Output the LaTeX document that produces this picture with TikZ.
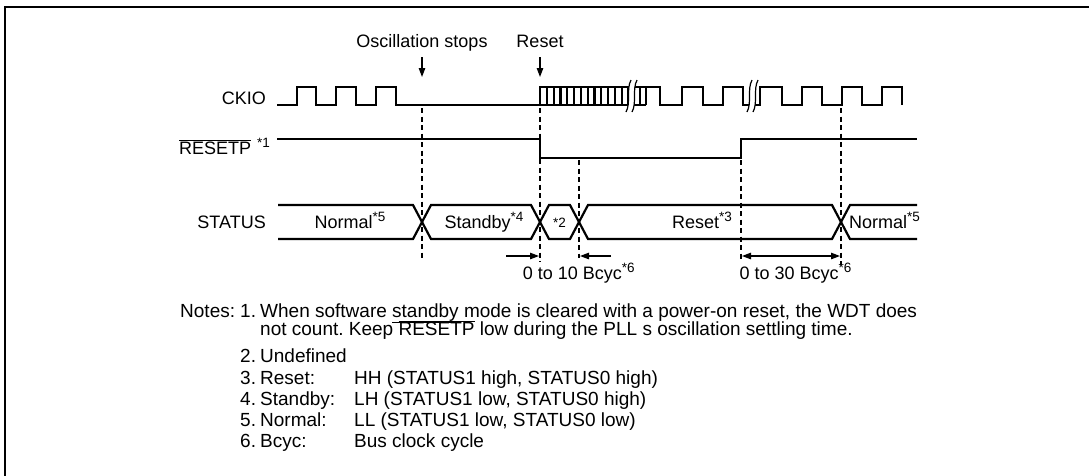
\documentclass[tikz,border=0pt]{standalone}
\usepackage{fontspec}
\setmainfont{Liberation Sans}
\usepackage{tikz}
\usetikzlibrary{arrows.meta,positioning,calc}
\newcommand{\sx}[1]{\raisebox{7pt}{\fontsize{13.5}{14}\selectfont #1}}
\frenchspacing

\begin{document}
\begin{tikzpicture}[x=1pt,y=-1pt,every node/.style={font=\fontsize{18}{21}\selectfont,inner sep=0pt},sig/.style={line width=2.2pt,line join=miter},guide/.style={line width=1.2pt,dash pattern=on 5pt off 3.5pt},lbl/.style={anchor=base east},note/.style={anchor=base west,font=\fontsize{19}{22}\selectfont},tip/.style={line width=1.2pt,-{Triangle[length=9pt,width=6.5pt]}},dtip/.style={line width=1.2pt,{Triangle[length=9pt,width=6.5pt]}-{Triangle[length=9pt,width=6.5pt]}}]
\useasboundingbox (0,0) rectangle (1089,475);
\draw[line width=2.2pt] (4.7,476) -- (4.7,7.3) -- (1090,7.3);
\draw[sig] (277,105) -- (297,105) -- (297,87) -- (316,87) -- (316,105) -- (336,105) -- (336,87) -- (356,87) -- (356,105) -- (376,105) -- (376,87) -- (396,87) -- (396,105) -- (540,105) -- (540,87) -- (660,87) -- (660,105) -- (682,105) -- (682,87) -- (703,87) -- (703,105) -- (723,105) -- (723,87) -- (743,87) -- (743,105) -- (760,105) -- (760,87) -- (782,87) -- (782,105) -- (802,105) -- (802,87) -- (822,87) -- (822,105) -- (842,105) -- (842,87) -- (862,87) -- (862,105) -- (882,105) -- (882,87) -- (902,87) -- (902,105);
\draw[sig] (540,105) -- (646,105);
\foreach \x in {546.8,553.6,...,630,640,646} \draw[sig] (\x,87) -- (\x,105);
\foreach \b in {628,749}{
  \fill[white] (\b+3,80) .. controls (\b-2,89) and (\b+3,103) .. (\b-2,112) -- (\b+4,112) .. controls (\b+9,103) and (\b+4,89) .. (\b+9,80) -- cycle;
  \draw[line width=1.2pt] (\b+3,80) .. controls (\b-2,89) and (\b+3,103) .. (\b-2,112);
  \draw[line width=1.2pt] (\b+9,80) .. controls (\b+4,89) and (\b+9,103) .. (\b+4,112);
}
\draw[sig] (277,139) -- (540,139) -- (540,158) -- (741,158) -- (741,139) -- (917,139);
\draw[sig] (278,205) -- (413,205) -- (422,222) -- (413,239) -- (278,239);
\foreach \l/\r in {422/540,540/579,579/841}
  \draw[sig] (\l,222) -- (\l+9,205) -- (\r-9,205) -- (\r,222) -- (\r-9,239) -- (\l+9,239) -- cycle;
\draw[sig] (917,205) -- (850,205) -- (841,222) -- (850,239) -- (917,239);
\draw[guide] (422,108) -- (422,258);
\draw[guide] (540,108) -- (540,262);
\draw[guide] (579,160) -- (579,258);
\draw[guide] (741,160) -- (741,260);
\draw[guide] (841,108) -- (841,265);
\node[lbl] (ckio) at (266,104.5) {CKIO};
\node[lbl] (resetp) at (270,154.3) {$\overline{\mbox{RESETP}}$\hspace{6pt}\sx{*1}};
\node[lbl] (status) at (266,228) {STATUS};
\node[anchor=base] (osc) at (422,47) {Oscillation stops};
\node[anchor=base] (rst) at (540,47) {Reset};
\coordinate (osctip) at (422,77);
\coordinate (rsttip) at (540,77);
\draw[tip] ($(osc.base)+(0,10)$) -- (osctip);
\draw[tip] ($(rst.base)+(0,10)$) -- (rsttip);
\node[anchor=base] (normal1) at (350,228) {Normal\sx{*5}};
\node[anchor=base] (standby) at (484,228) {Standby\sx{*4}};
\node[anchor=base,font=\fontsize{13.5}{14}\selectfont] (undef) at (559.5,227) {*2};
\node[anchor=base] (reset) at (702,228) {Reset\sx{*3}};
\node[anchor=base west] (normal2) at (849,228) {Normal\sx{*5}};
\coordinate (g2) at (540,256);
\coordinate (g3) at (579,256);
\coordinate (g4) at (741,256);
\coordinate (g5) at (841,256);
\draw[tip,shorten >=1pt] ($(g2)+(-34,0)$) -- (g2);
\draw[tip,shorten >=1pt] ($(g3)+(32,0)$) -- (g3);
\draw[dtip,shorten >=1pt,shorten <=1pt] (g4) -- (g5);
\node[anchor=base west] (bc10) at (522.7,279.5) {0 to 10 Bcyc\sx{*6}};
\node[anchor=base west] (bc30) at (739.3,279.5) {0 to 30 Bcyc\sx{*6}};
\node[note] (notes) at (180,317) {Notes:};
\node[note] (n1) at (240,317) {1.};
\node[note] (t1) at (260,317) {When software \underline{standby} mode is cleared with a power-on reset, the WDT does};
\node[note] (t1b) at (260,335.5) {not count. Keep $\overline{\mbox{RESETP}}$ low during the PLL s oscillation settling time.};
\node[note] (n2) at (240,362) {2.};
\node[note] (t2) at (260,362) {Undefined};
\node[note] (n3) at (240,384) {3.};
\node[note] (k3) at (260,384) {Reset:};
\node[note] (t3) at (354,384) {HH (STATUS1 high, STATUS0 high)};
\node[note] (n4) at (240,405) {4.};
\node[note] (k4) at (260,405) {Standby:};
\node[note] (t4) at (354,405) {LH (STATUS1 low, STATUS0 high)};
\node[note] (n5) at (240,426) {5.};
\node[note] (k5) at (260,426) {Normal:};
\node[note] (t5) at (354,426) {LL (STATUS1 low, STATUS0 low)};
\node[note] (n6) at (240,447) {6.};
\node[note] (k6) at (260,447) {Bcyc:};
\node[note] (t6) at (354,447) {Bus clock cycle};
\end{tikzpicture}
\end{document}
